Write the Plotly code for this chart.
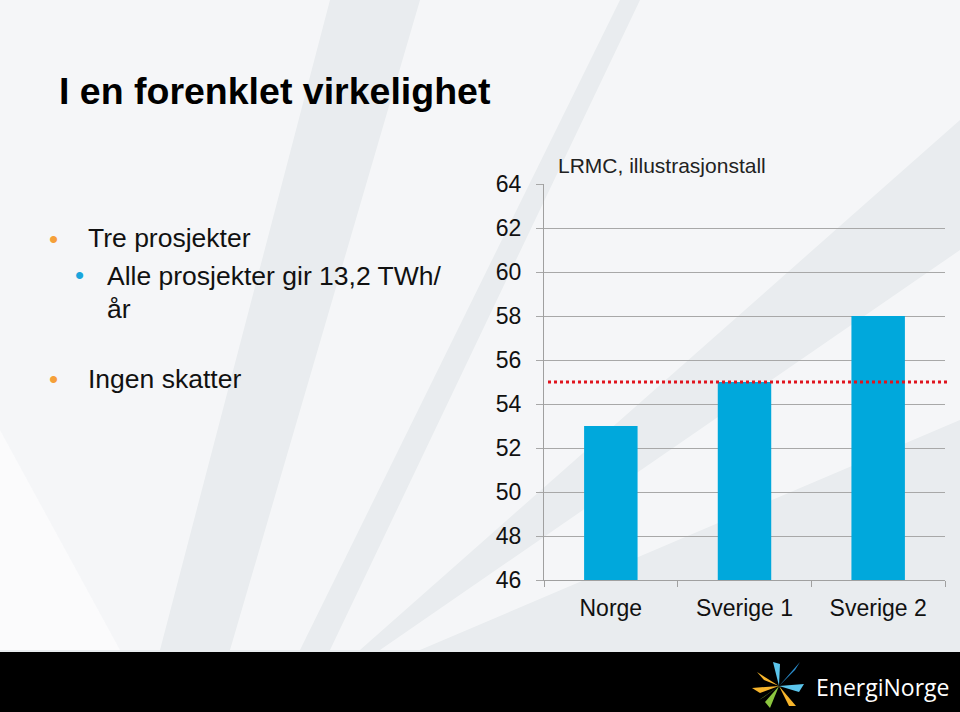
import plotly.graph_objects as go

# ---- data ----
categories = ["Norge", "Sverige 1", "Sverige 2"]
lrmc_values = [53, 55, 58]
reference_level = 55
y_ticks = [46, 48, 50, 52, 54, 56, 58, 60, 62, 64]
chart_title = "LRMC, illustrasjonstall"

W, H = 960, 712
FONT = "Liberation Sans, Arial, sans-serif"


def px(x):
    return x / W


def py(y):
    return 1 - y / H


def path(points):
    s = "M " + " L ".join(f"{px(x):.5f},{py(y):.5f}" for x, y in points) + " Z"
    return s


fig = go.Figure()
fig.add_trace(go.Bar(
    x=categories, y=lrmc_values, marker=dict(color="#00a8dc", line=dict(width=0)),
    width=0.4, showlegend=False, hoverinfo="x+y",
))

shapes = []
# background rays
bg_rays = [
    [(0, 0), (330, 0), (160, 650), (0, 650)],
    [(420, 0), (620, 0), (300, 650), (230, 650)],
    [(640, 0), (960, 0), (960, 120), (360, 650), (330, 650)],
    [(960, 250), (960, 420), (420, 650), (380, 650)],
    [(0, 430), (120, 650), (0, 650)],
]
for poly in bg_rays:
    shapes.append(dict(type="path", xref="paper", yref="paper", path=path(poly),
                       fillcolor="rgba(255,255,255,0.55)", line=dict(width=0), layer="below"))

# footer band
shapes.append(dict(type="rect", xref="paper", yref="paper", x0=0, x1=1, y0=0, y1=py(652),
                   fillcolor="#000000", line=dict(width=0), layer="above"))

# logo star
cx, cy = 779, 686
logo = [
    ([(cx, cy), (757, 672), (764, 680)], "#f7b52c"),
    ([(cx, cy), (752, 688), (760, 693)], "#f7b52c"),
    ([(cx, cy), (773, 662), (780, 664)], "#5bc5ec"),
    ([(cx, cy), (800, 662), (795, 670)], "#2a8fd0"),
    ([(cx, cy), (804, 684), (799, 692)], "#5bc5ec"),
    ([(cx, cy), (796, 706), (789, 706)], "#f7b52c"),
    ([(cx, cy), (770, 708), (765, 702)], "#8cc63f"),
    ([(cx, cy), (759, 700), (764, 697)], "#8cc63f"),
]
for poly, col in logo:
    shapes.append(dict(type="path", xref="paper", yref="paper", path=path(poly),
                       fillcolor=col, line=dict(width=0), layer="above"))

# reference dotted line
shapes.append(dict(type="line", xref="paper", yref="y", x0=px(548), x1=px(950),
                   y0=reference_level, y1=reference_level,
                   line=dict(color="#e0141e", width=3, dash="dot"), layer="above"))

TXT = 26.5
BUL = 26
annotations = [
    dict(text="<b>I en forenklet virkelighet</b>", x=px(57), y=py(91), xref="paper", yref="paper",
         xanchor="left", yanchor="middle", showarrow=False, font=dict(family=FONT, size=37.5, color="#000")),
    dict(text="•", x=px(53), y=py(239), xref="paper", yref="paper", xanchor="center", yanchor="middle",
         showarrow=False, font=dict(family=FONT, size=BUL, color="#f5a03a")),
    dict(text="Tre prosjekter", x=px(86), y=py(238), xref="paper", yref="paper", xanchor="left",
         yanchor="middle", showarrow=False, font=dict(family=FONT, size=TXT, color="#111")),
    dict(text="•", x=px(79), y=py(275), xref="paper", yref="paper", xanchor="center", yanchor="middle",
         showarrow=False, font=dict(family=FONT, size=BUL, color="#1aa5dc")),
    dict(text="Alle prosjekter gir 13,2 TWh/", x=px(105), y=py(276), xref="paper", yref="paper",
         xanchor="left", yanchor="middle", showarrow=False, font=dict(family=FONT, size=TXT, color="#111")),
    dict(text="år", x=px(105), y=py(309), xref="paper", yref="paper", xanchor="left", yanchor="middle",
         showarrow=False, font=dict(family=FONT, size=TXT, color="#111")),
    dict(text="•", x=px(53), y=py(379), xref="paper", yref="paper", xanchor="center", yanchor="middle",
         showarrow=False, font=dict(family=FONT, size=BUL, color="#f5a03a")),
    dict(text="Ingen skatter", x=px(86), y=py(379), xref="paper", yref="paper", xanchor="left",
         yanchor="middle", showarrow=False, font=dict(family=FONT, size=TXT, color="#111")),
    dict(text=chart_title, x=px(556), y=py(166), xref="paper", yref="paper", xanchor="left",
         yanchor="middle", showarrow=False, font=dict(family=FONT, size=21, color="#222")),
    dict(text="EnergiNorge", x=px(814), y=py(687), xref="paper", yref="paper", xanchor="left",
         yanchor="middle", showarrow=False, font=dict(family="Open Sans, sans-serif", size=23, color="#ffffff")),
]

fig.update_layout(
    width=W, height=H, margin=dict(l=0, r=0, t=0, b=0, autoexpand=False),
    paper_bgcolor="#e9ecef", plot_bgcolor="rgba(0,0,0,0)",
    shapes=shapes, annotations=annotations, bargap=0.6,
    xaxis=dict(domain=[px(544), px(945)], showgrid=False, showline=True, linecolor="#a0a0a0",
               linewidth=1, ticks="outside", tickson="boundaries", ticklen=6, tickcolor="#a0a0a0",
               ticklabelstandoff=7,
               tickfont=dict(family=FONT, size=23, color="#111"), fixedrange=True),
    yaxis=dict(domain=[py(580), py(184)], range=[46, 64], tickvals=y_ticks, showgrid=True,
               gridcolor="#a8a8a8", gridwidth=1, showline=True, linecolor="#a0a0a0", linewidth=1,
               ticks="outside", ticklen=7, tickcolor="#a8a8a8", ticklabelstandoff=10,
               tickfont=dict(family=FONT, size=23, color="#111"), zeroline=False, fixedrange=True),
    font=dict(family=FONT),
)

fig.write_html("out.html")
